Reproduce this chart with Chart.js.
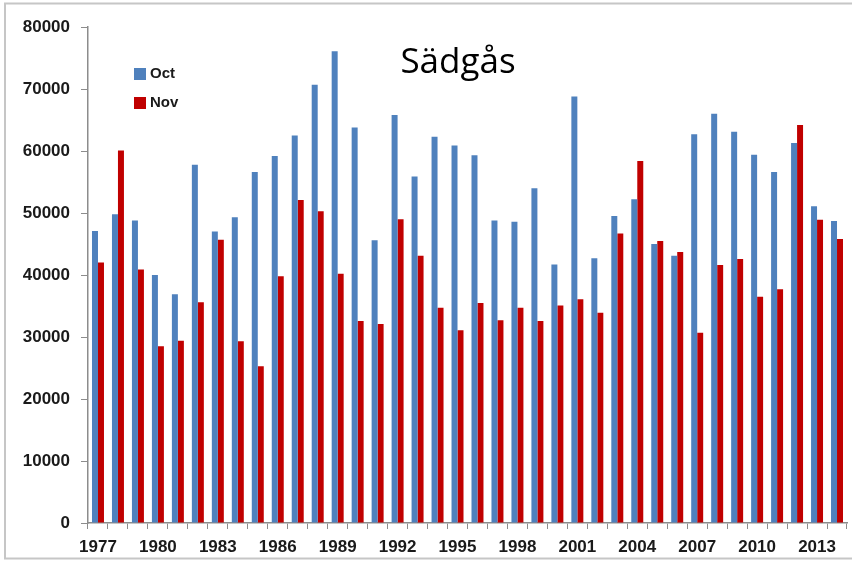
<!DOCTYPE html>
<html>
<head>
<meta charset="utf-8">
<script src="https://cdn.jsdelivr.net/npm/chart.js@4/dist/chart.umd.min.js"></script>
<style>
  html, body { margin: 0; padding: 0; background: #fff; }
  #wrap { width: 852px; height: 561px; position: relative; }
</style>
</head>
<body>
<div id="wrap"><canvas id="chart" width="852" height="561"></canvas></div>
<script>
// Data
const years = [];
for (let y = 1977; y <= 2014; y++) years.push(String(y));

const octCounts = [
  47100, 49800, 48800, 40000, 36900, 57800, 47000, 49300, 56600, 59200,
  62500, 70700, 76100, 63800, 45600, 65800, 55900, 62300, 60900, 59300,
  48800, 48600, 54000, 41700, 68800, 42700, 49500, 52200, 45000, 43100,
  62700, 66000, 63100, 59400, 56600, 61300, 51100, 48700
];
const novCounts = [
  42000, 60100, 40900, 28500, 29400, 35600, 45700, 29300, 25300, 39800,
  52100, 50300, 40200, 32600, 32100, 49000, 43100, 34700, 31100, 35500,
  32700, 34700, 32600, 35100, 36100, 33900, 46700, 58400, 45500, 43700,
  30700, 41600, 42600, 36500, 37700, 64200, 48900, 45800
];
const seriesNames = ['Oct', 'Nov'];
const seriesColors = ['#4F81BD', '#C00000'];
const chartTitle = 'Sädgås';

const fontFamily = "'Liberation Sans', Arial, sans-serif";

// frame, title and legend drawn on the canvas
const decorations = {
  id: 'decorations',
  afterDraw(chart) {
    const ctx = chart.ctx;
    ctx.save();
    ctx.strokeStyle = '#c6c6c6';
    ctx.lineWidth = 2;
    ctx.strokeRect(5, 3.5, 860, 555);

    ctx.fillStyle = '#000';
    ctx.font = "35px 'Open Sans', sans-serif";
    ctx.textAlign = 'center';
    ctx.textBaseline = 'middle';
    ctx.fillText(chartTitle, 458, 63);

    ctx.font = 'bold 15px ' + fontFamily;
    ctx.textAlign = 'left';
    seriesNames.forEach((name, i) => {
      const y = 74 + i * 29;
      ctx.fillStyle = seriesColors[i];
      ctx.fillRect(134, y - 6, 12, 12);
      ctx.fillStyle = '#1a1a1a';
      ctx.fillText(name, 150, y);
    });
    ctx.restore();
  }
};

new Chart(document.getElementById('chart'), {
  type: 'bar',
  data: {
    labels: years,
    datasets: seriesNames.map((name, i) => ({
      label: name,
      data: i === 0 ? octCounts : novCounts,
      backgroundColor: seriesColors[i],
      borderWidth: 0,
      categoryPercentage: 0.6,
      barPercentage: 1.0
    }))
  },
  options: {
    responsive: false,
    animation: false,
    layout: { padding: { top: 27, right: 5, left: 0, bottom: 0 } },
    plugins: {
      legend: { display: false },
      tooltip: { enabled: false }
    },
    scales: {
      x: {
        offset: true,
        grid: {
          display: true,
          drawOnChartArea: false,
          offset: true,
          tickLength: 6,
          color: '#8c8c8c'
        },
        border: { color: '#8c8c8c', width: 1.5 },
        ticks: {
          autoSkip: false,
          maxRotation: 0,
          color: '#1a1a1a',
          font: { family: fontFamily, size: 17, weight: 'bold' },
          padding: 8,
          callback: function (val, idx) {
            return idx % 3 === 0 ? this.getLabelForValue(val) : '';
          }
        },
        afterFit(scale) { scale.height = 38; }
      },
      y: {
        min: 0,
        max: 80000,
        grid: {
          display: true,
          drawOnChartArea: false,
          tickLength: 7,
          color: '#8c8c8c'
        },
        border: { color: '#8c8c8c', width: 1.5 },
        ticks: {
          stepSize: 10000,
          color: '#1a1a1a',
          font: { family: fontFamily, size: 17, weight: 'bold' },
          padding: 11,
          callback: v => String(v)
        },
        afterFit(scale) { scale.width = 88; }
      }
    }
  },
  plugins: [decorations]
});
</script>
</body>
</html>
